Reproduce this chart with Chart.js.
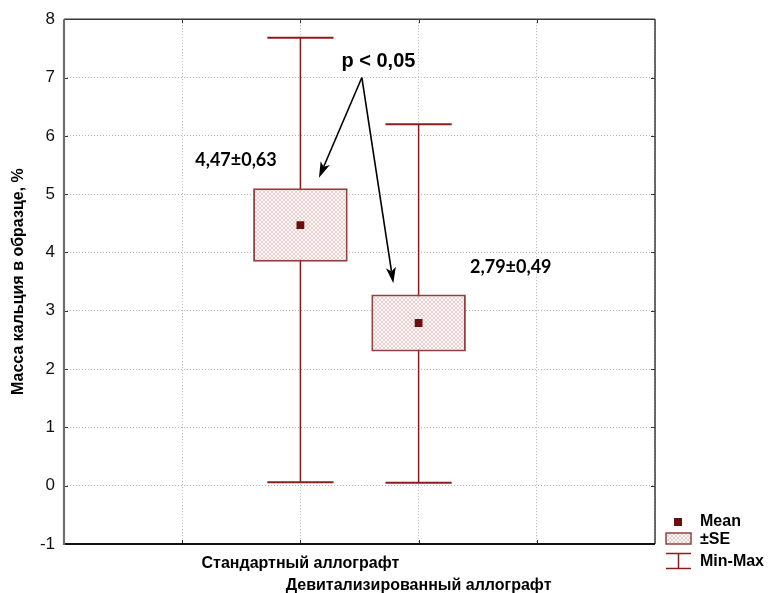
<!DOCTYPE html>
<html>
<head>
<meta charset="utf-8">
<script src="https://cdn.jsdelivr.net/npm/chart.js@4/dist/chart.umd.min.js"></script>
<style>
  html, body { margin: 0; padding: 0; background: #fff; }
  canvas { display: block; }
</style>
</head>
<body>
<canvas id="c" width="768" height="593"></canvas>
<script>
// Calcium mass in the sample, % — mean, ±SE and min–max per graft type
const categories = ['Стандартный аллографт', 'Девитализированный аллографт'];
const means = [4.47, 2.79];
const stdErrors = [0.63, 0.49];
const minValues = [0.06, 0.05];
const maxValues = [7.68, 6.20];
const legendLabels = ['Mean', '±SE', 'Min-Max'];
const significanceText = 'p < 0,05';
const yTitle = 'Масса кальция в образце, %';

// Categories sit on the 2nd and 3rd of five equal slots along the x axis
const slotOf = i => i + 2;

const fmt = v => v.toFixed(2).replace('.', ',');
const valueLabels = means.map((m, i) => fmt(m) + '±' + fmt(stdErrors[i]));

const BOX_EDGE = '#944040';
const WHISKER = '#8b1c1c';
const MEAN_FILL = '#6a0d0d';

function hatchPattern() {
  const t = document.createElement('canvas');
  t.width = 4; t.height = 4;
  const g = t.getContext('2d');
  g.fillStyle = '#ffffff';
  g.fillRect(0, 0, 4, 4);
  g.strokeStyle = 'rgba(215,140,140,0.5)';
  g.lineWidth = 0.9;
  g.beginPath();
  g.moveTo(0, 0); g.lineTo(4, 4);
  g.moveTo(4, 0); g.lineTo(0, 4);
  g.stroke();
  return document.getElementById('c').getContext('2d').createPattern(t, 'repeat');
}
const hatch = hatchPattern();

const meanData = means.map((m, i) => ({ x: slotOf(i), y: m }));
const seData = means.map((m, i) => ({ x: slotOf(i), y: [m - stdErrors[i], m + stdErrors[i]] }));

function line(ctx, x1, y1, x2, y2) {
  ctx.beginPath(); ctx.moveTo(x1, y1); ctx.lineTo(x2, y2); ctx.stroke();
}

function arrow(ctx, x1, y1, x2, y2) {
  const ang = Math.atan2(y2 - y1, x2 - x1);
  const len = 16, half = 5;
  const bx = x2 - len * Math.cos(ang), by = y2 - len * Math.sin(ang);
  ctx.strokeStyle = '#000';
  ctx.lineWidth = 1.6;
  line(ctx, x1, y1, bx + 4 * Math.cos(ang), by + 4 * Math.sin(ang));
  ctx.fillStyle = '#000';
  ctx.beginPath();
  ctx.moveTo(x2, y2);
  ctx.lineTo(bx - half * Math.sin(ang), by + half * Math.cos(ang));
  ctx.lineTo(bx + 4 * Math.cos(ang), by + 4 * Math.sin(ang));
  ctx.lineTo(bx + half * Math.sin(ang), by - half * Math.cos(ang));
  ctx.closePath();
  ctx.fill();
}

const boxPlotDecor = {
  id: 'boxPlotDecor',
  beforeDatasetsDraw(chart) {
    const { ctx, chartArea: a, scales: { x, y } } = chart;
    ctx.save();
    // inner tick marks
    ctx.strokeStyle = '#333';
    ctx.lineWidth = 1;
    for (let v = 1; v <= 4; v++) {
      const px = Math.round(x.getPixelForValue(v)) + 0.5;
      line(ctx, px, a.top, px, a.top + 4);
      line(ctx, px, a.bottom, px, a.bottom - 4);
    }
    for (let v = 0; v <= 7; v++) {
      const py = Math.round(y.getPixelForValue(v)) + 0.5;
      line(ctx, a.left, py, a.left + 4, py);
      line(ctx, a.right, py, a.right - 4, py);
    }
    // frame
    ctx.strokeStyle = '#3a3a3a';
    ctx.lineWidth = 1.5;
    line(ctx, a.left, a.top, a.right, a.top);
    line(ctx, a.right, a.top, a.right, a.bottom);
    ctx.strokeStyle = '#111';
    ctx.lineWidth = 2;
    line(ctx, a.left, a.bottom, a.right, a.bottom);
    ctx.strokeStyle = '#6e6e6e';
    ctx.lineWidth = 2.2;
    line(ctx, a.left, a.top, a.left, a.bottom + 1);
    // whiskers (min–max)
    ctx.strokeStyle = WHISKER;
    categories.forEach((_, i) => {
      const cx = x.getPixelForValue(slotOf(i));
      const yMin = y.getPixelForValue(minValues[i]);
      const yMax = y.getPixelForValue(maxValues[i]);
      const capL = x.getPixelForValue(slotOf(i) - 0.28);
      const capR = x.getPixelForValue(slotOf(i) + 0.28);
      ctx.lineWidth = 1.5;
      line(ctx, cx, yMin, cx, yMax);
      ctx.lineWidth = 2;
      line(ctx, capL, yMax, capR, yMax);
      line(ctx, capL, yMin, capR, yMin);
    });
    ctx.restore();
  },
  afterDatasetsDraw(chart) {
    const { ctx, scales: { x, y } } = chart;
    ctx.save();
    // significance label and arrows
    ctx.fillStyle = '#000';
    ctx.textAlign = 'center';
    ctx.textBaseline = 'middle';
    ctx.font = 'bold 20px "Liberation Sans", Arial, sans-serif';
    ctx.fillText(significanceText, x.getPixelForValue(2.66), y.getPixelForValue(7.27));
    const sx = x.getPixelForValue(2.52), sy = y.getPixelForValue(7.0);
    arrow(ctx, sx, sy, x.getPixelForValue(2.157), y.getPixelForValue(5.28));
    arrow(ctx, sx, sy, x.getPixelForValue(2.786), y.getPixelForValue(3.47));
    // mean ± SE labels
    ctx.font = 'bold 18px Lato, "Open Sans", sans-serif';
    const labelAt = [[1.455, 5.59], [3.78, 3.74]];
    valueLabels.forEach((t, i) => {
      ctx.fillText(t, x.getPixelForValue(labelAt[i][0]), y.getPixelForValue(labelAt[i][1]));
    });
    ctx.restore();
  },
  afterDraw(chart) {
    const { ctx } = chart;
    ctx.save();
    // legend
    ctx.fillStyle = MEAN_FILL;
    ctx.fillRect(674, 518, 8, 8);
    ctx.fillStyle = hatch;
    ctx.fillRect(666, 533, 25, 11);
    ctx.strokeStyle = BOX_EDGE;
    ctx.lineWidth = 1.5;
    ctx.strokeRect(666, 533, 25, 11);
    ctx.strokeStyle = WHISKER;
    ctx.lineWidth = 1.5;
    line(ctx, 666, 553.5, 691, 553.5);
    line(ctx, 678.5, 553.5, 678.5, 568.5);
    line(ctx, 666, 568.5, 691, 568.5);
    ctx.fillStyle = '#000';
    ctx.font = 'bold 16px "Liberation Sans", Arial, sans-serif';
    ctx.textAlign = 'left';
    ctx.textBaseline = 'middle';
    ctx.fillText(legendLabels[0], 700, 522);
    ctx.fillText(legendLabels[1], 700, 540);
    ctx.fillText(legendLabels[2], 700, 562);
    ctx.restore();
  }
};

new Chart(document.getElementById('c'), {
  type: 'bar',
  data: {
    datasets: [
      {
        type: 'scatter',
        label: legendLabels[0],
        data: meanData,
        pointStyle: 'rect',
        pointRadius: 5.5,
        pointHoverRadius: 5.5,
        backgroundColor: MEAN_FILL,
        borderColor: MEAN_FILL,
        borderWidth: 0,
        order: 0
      },
      {
        type: 'bar',
        label: legendLabels[1],
        data: seData,
        backgroundColor: hatch,
        borderColor: BOX_EDGE,
        borderWidth: 2,
        borderSkipped: false,
        categoryPercentage: 1,
        barPercentage: 0.8,
        order: 1
      }
    ]
  },
  options: {
    responsive: false,
    animation: false,
    devicePixelRatio: 1,
    layout: { padding: { top: 15, right: 113, left: 0, bottom: 0 } },
    plugins: { legend: { display: false }, tooltip: { enabled: false } },
    scales: {
      x: {
        type: 'linear',
        min: 0, max: 5,
        offset: false,
        afterFit(s) { s.height = 49; },
        grid: { offset: false, color: '#b4b4b4', lineWidth: 1, drawTicks: false },
        border: { display: false, dash: [1, 2] },
        ticks: {
          stepSize: 1,
          autoSkip: false,
          maxRotation: 0,
          minRotation: 0,
          padding: 8,
          color: '#000',
          font: { family: '"Liberation Sans", Arial, sans-serif', size: 16, weight: 'bold', lineHeight: 1.4 },
          callback(v) {
            const i = v - 2;
            if (i === 0) return categories[0];
            if (i === 1) return ['', categories[1]];
            return '';
          }
        }
      },
      y: {
        type: 'linear',
        min: -1, max: 8,
        afterFit(s) { s.width = 64; },
        grid: { color: '#b4b4b4', lineWidth: 1, drawTicks: false },
        border: { display: false, dash: [1, 2] },
        ticks: {
          stepSize: 1,
          padding: 9,
          color: '#111',
          font: { family: '"Liberation Sans", Arial, sans-serif', size: 17 }
        },
        title: {
          display: true,
          text: yTitle,
          color: '#000',
          padding: { top: 9, bottom: 0 },
          font: { family: '"Liberation Sans", Arial, sans-serif', size: 16, weight: 'bold' }
        }
      }
    }
  },
  plugins: [boxPlotDecor]
});
</script>
</body>
</html>
